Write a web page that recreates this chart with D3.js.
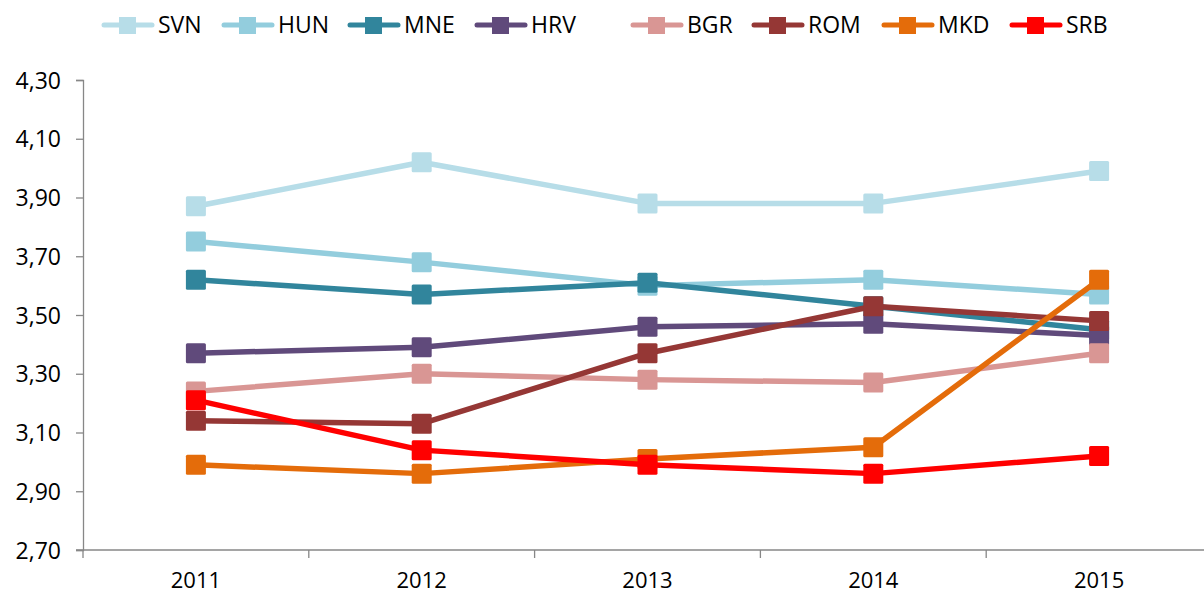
<!DOCTYPE html>
<html>
<head>
<meta charset="utf-8">
<script src="https://cdn.jsdelivr.net/npm/d3@7"></script>
<style>
  body { margin: 0; background: #fff; }
  text { font-family: "Open Sans", "Liberation Sans", sans-serif; fill: #000; }
</style>
</head>
<body>
<div id="chart"></div>
<script>
// data
var years = ["2011", "2012", "2013", "2014", "2015"];
var countries = ["SVN", "HUN", "MNE", "HRV", "BGR", "ROM", "MKD", "SRB"];
var colors = ["#b7dde8", "#93cddd", "#31859c", "#604a7b", "#d99694", "#953735", "#e46c0a", "#ff0000"];
var SVN = [3.87, 4.02, 3.88, 3.88, 3.99];
var HUN = [3.75, 3.68, 3.60, 3.62, 3.57];
var MNE = [3.62, 3.57, 3.61, 3.53, 3.45];
var HRV = [3.37, 3.39, 3.46, 3.47, 3.43];
var BGR = [3.24, 3.30, 3.28, 3.27, 3.37];
var ROM = [3.14, 3.13, 3.37, 3.53, 3.48];
var MKD = [2.99, 2.96, 3.01, 3.05, 3.62];
var SRB = [3.21, 3.04, 2.99, 2.96, 3.02];
var yTicks = [2.7, 2.9, 3.1, 3.3, 3.5, 3.7, 3.9, 4.1, 4.3];
var legendX = [102, 222, 348, 475, 631, 752, 882, 1010];

var seriesValues = [SVN, HUN, MNE, HRV, BGR, ROM, MKD, SRB];
var series = countries.map(function(c, i){
    return {name: c, color: colors[i], values: seriesValues[i]};
});

var width = 1204, height = 595;
var margins = {left: 83, right: -8, top: 80, bottom: 45};

var svg = d3.select("#chart").append("svg")
    .attr("width", width)
    .attr("height", height);

var x = d3.scaleBand()
    .domain(years)
    .range([margins.left, width - margins.right]);
var y = d3.scaleLinear()
    .domain([2.7, 4.3])
    .range([height - margins.bottom, margins.top]);

var fmt = function(d){ return d3.format(".2f")(d).replace(".", ","); };

// y axis
var gY = svg.append("g")
    .attr("transform", "translate(" + margins.left + ",0)")
    .call(d3.axisLeft(y).tickValues(yTicks).tickFormat(fmt).tickSize(7).tickPadding(15));
gY.select(".domain").attr("stroke", "#878787").attr("stroke-width", 1.3);
gY.selectAll(".tick line").attr("stroke", "#878787").attr("stroke-width", 1.3);
gY.selectAll(".tick text").style("font-size", "23px").attr("dy", "0.35em");

// x axis
var gX = svg.append("g")
    .attr("transform", "translate(0," + y(2.7) + ")");
gX.append("line")
    .attr("x1", margins.left - 7).attr("x2", width)
    .attr("stroke", "#878787").attr("stroke-width", 1.3);
gX.selectAll(".sep")
    .data(years)
    .enter().append("line")
    .attr("class", "sep")
    .attr("x1", function(d){ return x(d); })
    .attr("x2", function(d){ return x(d); })
    .attr("y1", 0).attr("y2", 8)
    .attr("stroke", "#878787").attr("stroke-width", 1.3);
gX.selectAll(".lbl")
    .data(years)
    .enter().append("text")
    .attr("class", "lbl")
    .attr("x", function(d){ return x(d) + x.bandwidth() / 2; })
    .attr("y", 30)
    .attr("dy", "0.35em")
    .attr("text-anchor", "middle")
    .style("font-size", "22px")
    .text(function(d){ return d; });

// lines
var line = d3.line()
    .x(function(d, i){ return x(years[i]) + x.bandwidth() / 2; })
    .y(function(d){ return y(d); });

var m = 20;
var gS = svg.selectAll(".series")
    .data(series)
    .enter().append("g")
    .attr("class", "series");
gS.append("path")
    .attr("d", function(d){ return line(d.values); })
    .attr("fill", "none")
    .attr("stroke", function(d){ return d.color; })
    .attr("stroke-width", 5.5)
    .attr("stroke-linejoin", "round");
gS.selectAll("rect")
    .data(function(d){ return d.values.map(function(v, i){ return {v: v, i: i, color: d.color}; }); })
    .enter().append("rect")
    .attr("x", function(d){ return x(years[d.i]) + x.bandwidth() / 2 - m / 2; })
    .attr("y", function(d){ return y(d.v) - m / 2; })
    .attr("width", m).attr("height", m)
    .attr("rx", 1.5)
    .attr("fill", function(d){ return d.color; });

// legend
var gL = svg.selectAll(".legend")
    .data(series)
    .enter().append("g")
    .attr("class", "legend")
    .attr("transform", function(d, i){ return "translate(" + legendX[i] + ",25)"; });
gL.append("line")
    .attr("x1", 2).attr("x2", 50)
    .attr("stroke", function(d){ return d.color; })
    .attr("stroke-width", 5)
    .attr("stroke-linecap", "round");
gL.append("rect")
    .attr("x", 17).attr("y", -8)
    .attr("width", 17).attr("height", 17)
    .attr("fill", function(d){ return d.color; });
gL.append("text")
    .attr("x", 56).attr("y", 0)
    .attr("dy", "0.35em")
    .style("font-size", "23px")
    .text(function(d){ return d.name; });
</script>
</body>
</html>
